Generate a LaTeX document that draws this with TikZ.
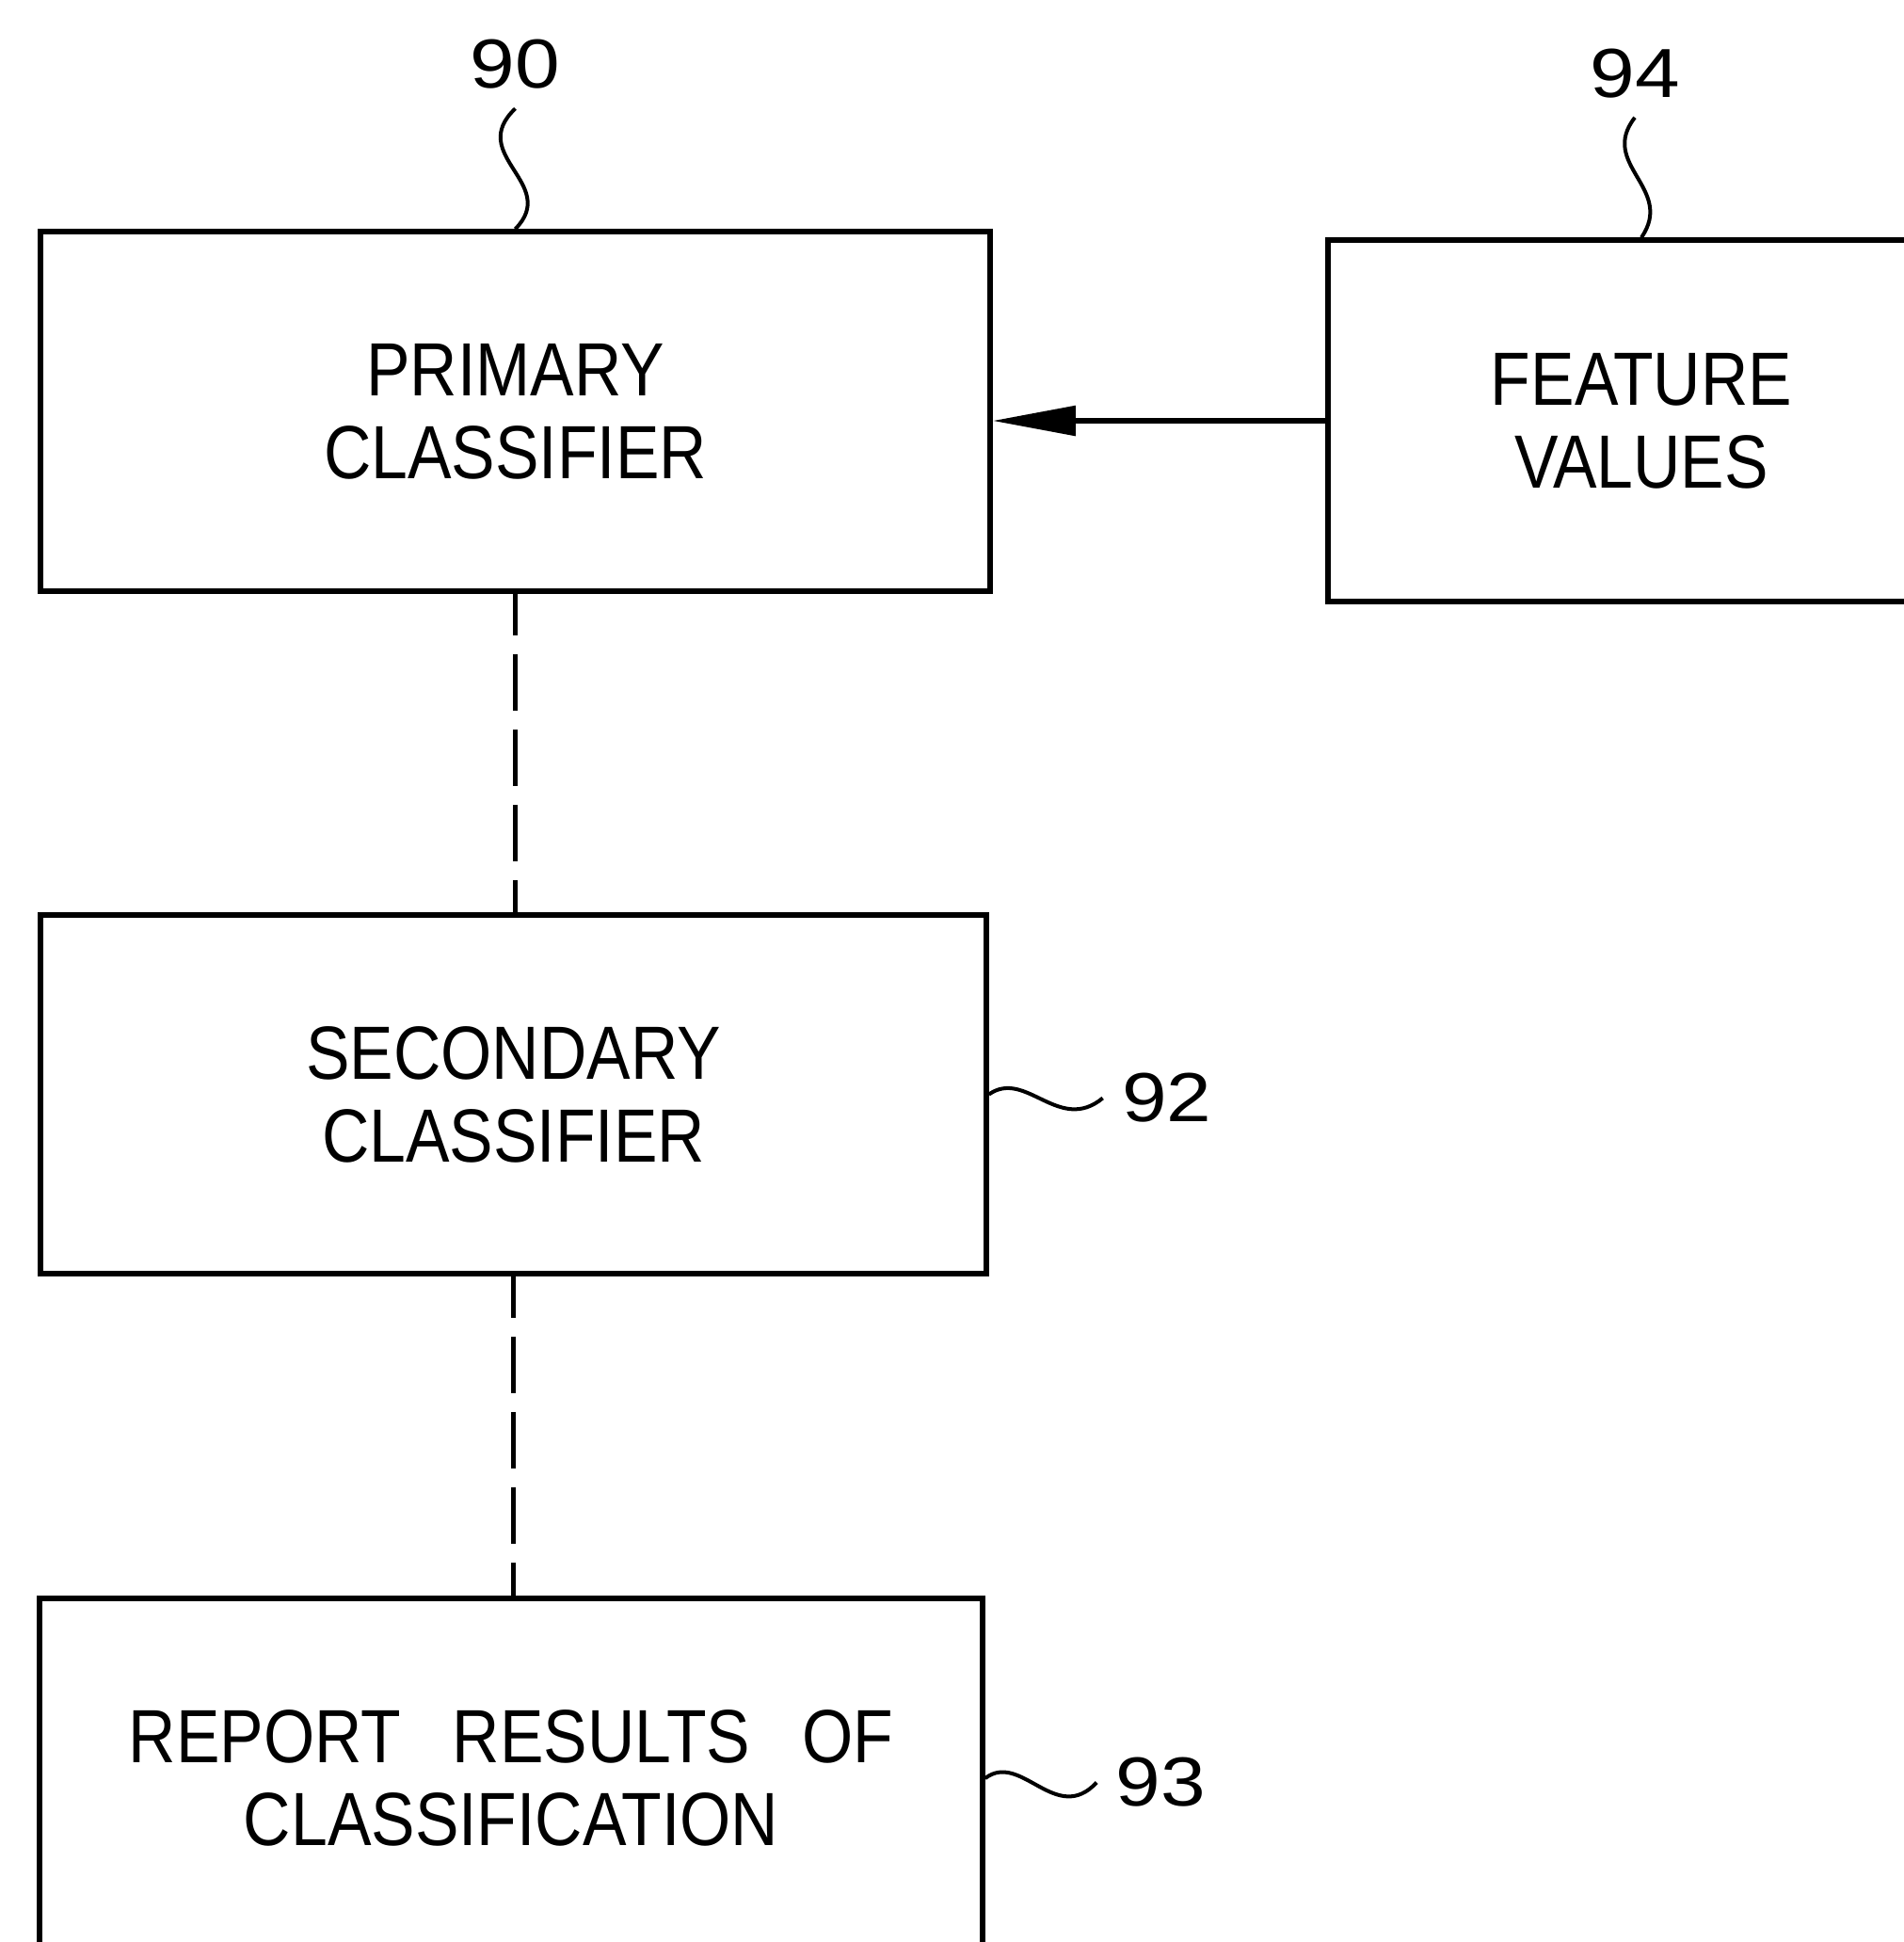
\documentclass[tikz,border=0pt]{standalone}
\usepackage{fontspec}
\setmainfont{Liberation Sans}[FakeStretch=0.87]
\newfontfamily\numfont{Liberation Sans}[FakeStretch=1.16]
\usepackage{tikz}
\usetikzlibrary{arrows.meta}
\tikzset{
	block/.style={draw, line width=0.55mm, align=center, inner sep=0pt,
		font=\fontsize{22.8}{25}\selectfont},
	refnum/.style={inner sep=2mm, font=\numfont\fontsize{21}{21}\selectfont},
	leader/.style={line width=0.4mm},
	link/.style={line width=0.45mm, dash pattern=on 6mm off 2mm, dash phase=1.6mm},
	flow/.style={line width=0.55mm, -{Triangle[length=8.8mm, width=3.1mm]}}
}
\begin{document}
\begin{tikzpicture}
	\useasboundingbox (0,0) rectangle (20.23,-20.63);
	\clip (0,0) rectangle (20.23,-20.63);
	%blocchi
	\node [block, minimum width=10.09cm, minimum height=3.82cm] (prim) at (5.475,-4.37) {PRIMARY\\CLASSIFIER};
	\node [block, minimum width=6.66cm, minimum height=3.84cm] (feat) at (17.44,-4.47) {FEATURE\\VALUES};
	\node [block, minimum width=10.05cm, minimum height=3.81cm] (sec) at (5.455,-11.625) {SECONDARY\\CLASSIFIER};
	\node [block, minimum width=10.02cm, minimum height=3.82cm] (rep) at (5.43,-18.89) {REPORT\hspace{5.5mm}RESULTS\hspace{5.5mm}OF\\CLASSIFICATION};
	%numeri
	\node [refnum] (l90) at (5.475,-0.685) {90};
	\node [refnum] (l94) at (17.37,-0.78) {94};
	\node [refnum] (l92) at (12.40,-11.665) {92};
	\node [refnum] (l93) at (12.335,-18.935) {93};
	%collegamenti
	\draw [flow] (feat.west) -- (feat.west -| prim.east);
	\draw [link] (prim.south) -- (prim.south |- sec.north);
	\draw [link] (sec.south) -- (sec.south |- rep.north);
	\draw [leader] (l90.south) .. controls (4.95,-1.65) and (5.95,-1.95) .. (prim.north);
	\draw [leader] (l94.south) .. controls (16.98,-1.75) and (17.80,-2.0) .. (feat.north);
	\draw [leader] (sec.east) .. controls (10.90,-11.35) and (11.25,-12.05) .. (l92.west);
	\draw [leader] (rep.east) .. controls (10.85,-18.60) and (11.22,-19.40) .. (l93.west);
\end{tikzpicture}
\end{document}
